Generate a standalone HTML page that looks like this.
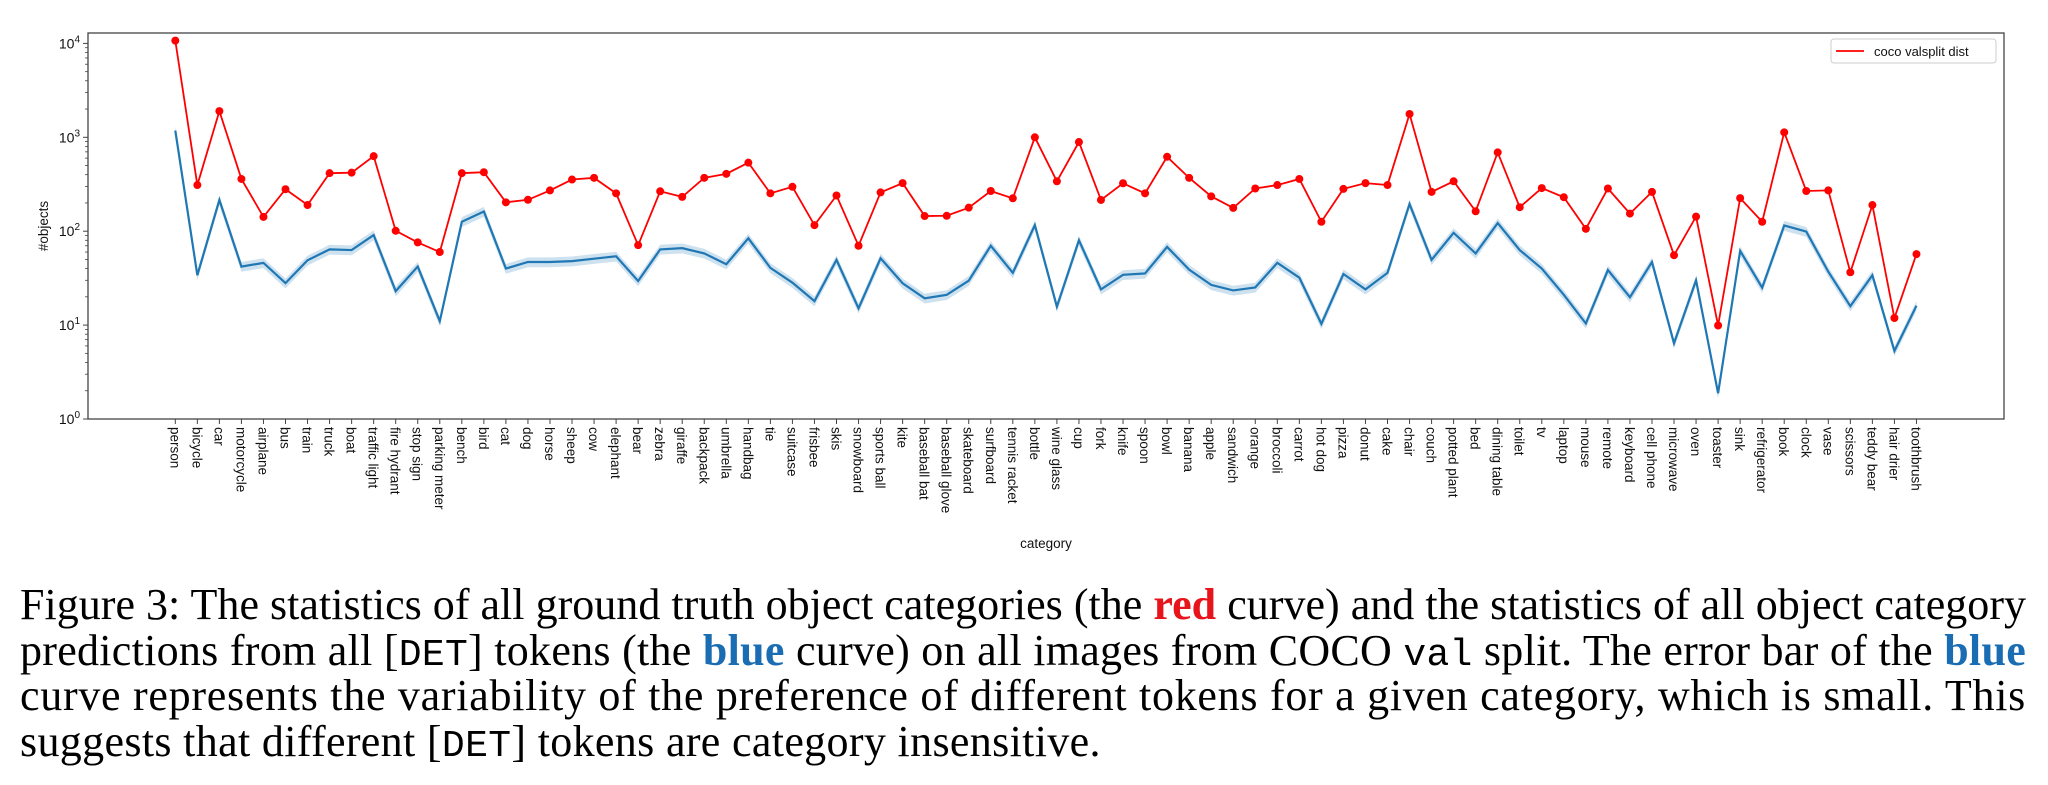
<!DOCTYPE html>
<html><head><meta charset="utf-8">
<style>
html,body{margin:0;padding:0;background:#fff;}
body{width:2048px;height:785px;position:relative;overflow:hidden;}
#chart{position:absolute;left:0;top:0;}
.cap{position:absolute;left:20px;width:2006px;font-family:"Liberation Serif",serif;font-size:44px;line-height:45.5px;color:#000;}
.cap .ln{display:block;white-space:nowrap;height:45.5px;}
.mono{font-family:"Liberation Mono",monospace;font-size:38px;}
.red{color:#e8141b;font-weight:bold;}
.blue{color:#1b6db3;font-weight:bold;}
</style></head>
<body>
<svg id="chart" width="2048" height="580" xmlns="http://www.w3.org/2000/svg" font-family="Liberation Sans, DejaVu Sans, sans-serif"></svg>
<div class="cap" style="top:582px;">
<span class="ln">Figure 3: The statistics of all ground truth object categories (the <span class="red">red</span> curve) and the statistics of all object category</span>
<span class="ln">predictions from all [<span class="mono">DET</span>] tokens (the <span class="blue">blue</span> curve) on all images from COCO <span class="mono">val</span> split. The error bar of the <span class="blue">blue</span></span>
<span class="ln">curve represents the variability of the preference of different tokens for a given category, which is small. This</span>
<span class="ln last">suggests that different [<span class="mono">DET</span>] tokens are category insensitive.</span>
</div>
<script>
const categories = ["person","bicycle","car","motorcycle","airplane","bus","train","truck","boat","traffic light","fire hydrant","stop sign","parking meter","bench","bird","cat","dog","horse","sheep","cow","elephant","bear","zebra","giraffe","backpack","umbrella","handbag","tie","suitcase","frisbee","skis","snowboard","sports ball","kite","baseball bat","baseball glove","skateboard","surfboard","tennis racket","bottle","wine glass","cup","fork","knife","spoon","bowl","banana","apple","sandwich","orange","broccoli","carrot","hot dog","pizza","donut","cake","chair","couch","potted plant","bed","dining table","toilet","tv","laptop","mouse","remote","keyboard","cell phone","microwave","oven","toaster","sink","refrigerator","book","clock","vase","scissors","teddy bear","hair drier","toothbrush"];
const redValues = [10700,310,1900,360,142,280,190,415,420,630,101,76,60,415,425,203,216,272,355,370,253,71,266,232,370,408,537,253,297,116,240,70,259,325,145,146,178,268,224,1000,340,890,215,324,253,620,370,235,177,285,310,360,126,282,325,310,1770,262,340,163,690,180,288,230,106,285,154,262,55.5,143,9.9,225,126,1130,268,272,36.5,190,11.9,57];
const blueValues = [1180,34,215,42,46,28,49,64,63,91,23,42,11,126,162,40,47,47,48,51,54,29.5,64,66,58,44.5,84,40.7,28.3,18,49.5,15.1,51.5,27.9,19.3,21,29.7,70,36,116,15.7,80,24,34.3,35.5,68,39,26.8,23.4,25.2,46,32,10.3,35,24,36,195,49.5,96,58,122,63,40,21,10.4,38.6,19.8,47,6.4,30,1.88,61.7,25,115,99,37,15.9,34,5.3,16.1];
const blueSpread = 0.12;
const yTickExps = [0,1,2,3,4];

const NS="http://www.w3.org/2000/svg";
const svg=document.getElementById('chart');
const L=88,R=2004,T=33,B=419;
const X0=175.3,DX=22.04;
const Y0=419,DEC=93.9;
function xs(i){return X0+i*DX;}
function ys(v){return Y0-Math.log10(v)*DEC;}
function mk(tag,attrs){const e=document.createElementNS(NS,tag);for(const k in attrs)e.setAttribute(k,attrs[k]);svg.appendChild(e);return e;}

let up=[],dn=[];
blueValues.forEach((v,i)=>{up.push(xs(i)+','+ys(v*(1+blueSpread)));dn.unshift(xs(i)+','+ys(v*(1-blueSpread)));});
const band=mk('polygon',{points:up.concat(dn).join(' '),fill:'#1f77b4','fill-opacity':'0.22',stroke:'none'});



const bl=mk('polyline',{points:blueValues.map((v,i)=>xs(i)+','+ys(v)).join(' '),fill:'none',stroke:'#1f77b4','stroke-width':'2.2'});



const rl=mk('polyline',{points:redValues.map((v,i)=>xs(i)+','+ys(v)).join(' '),fill:'none',stroke:'#ff0000','stroke-width':'1.8'});


redValues.forEach((v,i)=>{
  const c=mk('circle',{cx:xs(i),cy:ys(v),r:4,fill:'#ff0000'});
  
  
});

const fr=mk('rect',{x:L,y:T,width:R-L,height:B-T,fill:'none',stroke:'#444','stroke-width':'1.3'});



yTickExps.forEach(e=>{
  const y=ys(Math.pow(10,e));
  mk('line',{x1:L-5,x2:L,y1:y,y2:y,stroke:'#444','stroke-width':'1'});
  const t=mk('text',{x:L-8,y:y+5,'text-anchor':'end','font-size':'14',fill:'#111'});
  
  
  t.textContent='10';
  const s=document.createElementNS(NS,'tspan');s.setAttribute('dy','-6');s.setAttribute('font-size','10');s.textContent=e;t.appendChild(s);
  if(e<4){for(let m=2;m<10;m++){const ym=ys(m*Math.pow(10,e));mk('line',{x1:L-3,x2:L,y1:ym,y2:ym,stroke:'#444','stroke-width':'0.8'});}}
});
const yl=mk('text',{x:0,y:0,'text-anchor':'middle','font-size':'13.5',fill:'#111',transform:'translate(48,226) rotate(-90)'});


yl.textContent='#objects';

categories.forEach((c,i)=>{
  const x=xs(i);
  mk('line',{x1:x,x2:x,y1:B,y2:B+5,stroke:'#444','stroke-width':'1'});
  const t=mk('text',{x:0,y:0,'font-size':'13.5',fill:'#111',transform:'translate('+(x-5)+','+(B+8)+') rotate(90)'});
  
  
  t.textContent=c;
});
const xl=mk('text',{x:(L+R)/2,y:548,'text-anchor':'middle','font-size':'13.5',fill:'#111'});


xl.textContent='category';

const lg=mk('rect',{x:1831,y:39,width:165,height:24,rx:3,fill:'#fff',stroke:'#ccc','stroke-width':'1'});


mk('line',{x1:1836,x2:1864,y1:51,y2:51,stroke:'#ff0000','stroke-width':'1.8'});
const lt=mk('text',{x:1874,y:56,'font-size':'13',fill:'#111'});


lt.textContent='coco valsplit dist';

// fit caption lines to full width via letter-spacing
(function(){
  const lines=document.querySelectorAll('.cap .ln');
  let sum=0,n=0;
  lines.forEach((ln,idx)=>{
    if(ln.classList.contains('last'))return;
    ln.style.display='inline-block';
    const w=ln.getBoundingClientRect().width;
    const chars=ln.textContent.length;
    const ls=(2006-w)/chars;
    ln.style.letterSpacing=ls+'px';
    ln.style.display='block';
    sum+=ls;n++;
  });
  const last=document.querySelector('.cap .last');
  if(n)last.style.letterSpacing=(sum/n)+'px';
})();
</script>
</body></html>
